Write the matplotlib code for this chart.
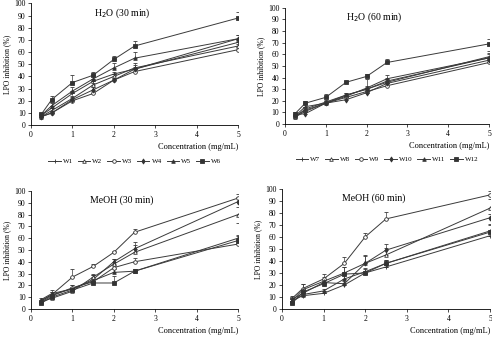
import numpy as np
import matplotlib
matplotlib.use('Agg')
import matplotlib.pyplot as plt

plt.rcParams['font.family'] = ['Liberation Serif', 'DejaVu Serif']
plt.rcParams['font.size'] = 5.5

conc = [0.25, 0.5, 1, 1.5, 2, 2.5, 5]

# H2O (30 min) - W1..W6
h30_names = ['W1', 'W2', 'W3', 'W4', 'W5', 'W6']
h30_vals = [
    [8, 14, 26, 36, 42, 46, 68],
    [7, 12, 22, 33, 40, 47, 65],
    [7, 10, 20, 26, 37, 44, 62],
    [7, 10, 21, 29, 37, 46, 71],
    [8, 16, 28, 38, 47, 55, 71],
    [9, 21, 35, 41, 54, 65, 88],
]
h30_err = [
    [1, 2, 2, 2, 2, 2, 2],
    [1, 2, 2, 2, 2, 2, 2],
    [1, 1, 1, 2, 1, 2, 2],
    [1, 2, 2, 2, 2, 5, 3],
    [1, 2, 3, 3, 4, 5, 3],
    [1, 3, 6, 3, 3, 4, 5],
]

# H2O (60 min) - W7..W12
h60_names = ['W7', 'W8', 'W9', 'W10', 'W11', 'W12']
h60_vals = [
    [7, 15, 18, 24, 31, 39, 57],
    [6, 13, 19, 25, 30, 36, 58],
    [6, 11, 18, 23, 28, 33, 53],
    [8, 9, 18, 21, 27, 35, 55],
    [7, 12, 18, 25, 30, 37, 57],
    [9, 18, 23, 36, 41, 53, 69],
]
h60_err = [
    [1, 2, 2, 2, 2, 3, 3],
    [1, 2, 2, 2, 9, 2, 5],
    [1, 1, 1, 1, 2, 2, 3],
    [1, 1, 2, 1, 2, 2, 3],
    [1, 2, 2, 2, 2, 3, 4],
    [1, 2, 3, 1, 2, 3, 4],
]

# MeOH (30 min)
m30_vals = [
    [7, 12, 27, 36, 48, 65, 94],
    [7, 12, 17, 25, 40, 51, 91],
    [6, 9, 15, 27, 38, 48, 80],
    [6, 11, 18, 23, 35, 40, 55],
    [8, 13, 17, 24, 31, 32, 60],
    [5, 10, 16, 22, 22, 32, 58],
]
m30_err = [
    [1, 2, 7, 2, 1, 3, 3],
    [1, 2, 2, 4, 2, 6, 4],
    [1, 2, 2, 3, 4, 6, 6],
    [1, 2, 2, 3, 2, 3, 8],
    [1, 3, 3, 5, 3, 2, 13],
    [1, 2, 2, 2, 6, 2, 4],
]

# MeOH (60 min)
m60_vals = [
    [9, 17, 25, 38, 60, 75, 95],
    [7, 16, 23, 30, 38, 45, 84],
    [8, 13, 22, 21, 38, 49, 76],
    [5, 14, 21, 29, 30, 38, 64],
    [6, 12, 15, 25, 31, 38, 65],
    [7, 11, 13, 20, 30, 35, 61],
]
m60_err = [
    [2, 4, 4, 5, 3, 6, 3],
    [2, 5, 4, 5, 7, 6, 8],
    [2, 3, 3, 10, 6, 5, 3],
    [1, 3, 3, 6, 3, 3, 6],
    [1, 3, 2, 5, 3, 3, 6],
    [1, 2, 2, 5, 2, 2, 3],
]

markers = [
    dict(marker='+', mfc='#333333'),
    dict(marker='^', mfc='white'),
    dict(marker='o', mfc='white'),
    dict(marker='d', mfc='#333333'),
    dict(marker='^', mfc='#333333'),
    dict(marker='s', mfc='#333333'),
]
m30_markers = [markers[2], markers[3], markers[1], markers[2], markers[4], markers[5]]
m60_markers = [markers[2], markers[1], markers[3], markers[5], markers[4], markers[0]]


def draw(ax, vals, errs, styles, names, title):
    for i, (v, e) in enumerate(zip(vals, errs)):
        st = styles[i]
        ax.errorbar(conc, v, yerr=[np.zeros(len(e)), e], color='#3a3a3a', lw=0.7,
                    marker=st['marker'], mfc=st['mfc'], mec='#333333', ms=2.6,
                    mew=0.6, elinewidth=0.5, capsize=1.5, capthick=0.5,
                    label=names[i] if names else None)
    ax.set_xlim(0, 5)
    ax.set_ylim(0, 100)
    ax.set_xticks([0, 1, 2, 3, 4, 5])
    ax.set_yticks(range(0, 101, 10))
    ax.spines['top'].set_visible(False)
    ax.spines['right'].set_visible(False)
    for s in ['left', 'bottom']:
        ax.spines[s].set_linewidth(0.6)
    ax.tick_params(length=2, width=0.5, pad=2, labelsize=5.5)
    ax.set_ylabel('LPO inhibition (%)', fontsize=5.5, labelpad=2)
    ax.text(2.2, 92, title, ha='center', va='center', fontsize=7)
    ax.text(1.0, -0.15, 'Concentration (mg/mL)', transform=ax.transAxes,
            ha='right', va='top', fontsize=6)


fig = plt.figure(figsize=(4.92, 3.41), dpi=100)
ax1 = fig.add_axes([0.063, 0.633, 0.421, 0.357])
ax2 = fig.add_axes([0.579, 0.636, 0.415, 0.341])
ax3 = fig.add_axes([0.063, 0.094, 0.421, 0.346])
ax4 = fig.add_axes([0.573, 0.094, 0.423, 0.352])

draw(ax1, h30_vals, h30_err, markers, h30_names, 'H$_2$O (30 min)')
draw(ax2, h60_vals, h60_err, markers, h60_names, 'H$_2$O (60 min)')
draw(ax3, m30_vals, m30_err, m30_markers, None, 'MeOH (30 min)')
draw(ax4, m60_vals, m60_err, m60_markers, None, 'MeOH (60 min)')

for ax in (ax1, ax2):
    h, l = ax.get_legend_handles_labels()
    h = [x[0] for x in h]
    ax.legend(h, l, loc='upper center', bbox_to_anchor=(0.5, -0.24), ncol=6,
              frameon=False, fontsize=5, handlelength=1.8, columnspacing=0.7,
              handletextpad=0.3, borderaxespad=0.2)

fig.savefig('out.png', dpi=100)
